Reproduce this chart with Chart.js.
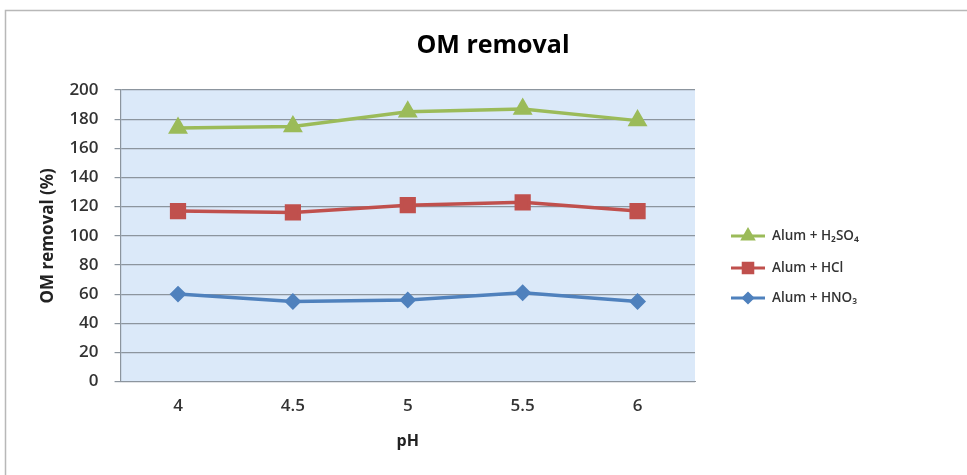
<!DOCTYPE html>
<html>
<head>
<meta charset="utf-8">
<script src="https://cdn.jsdelivr.net/npm/chart.js@4/dist/chart.umd.min.js"></script>
<style>
  html,body{margin:0;padding:0;background:#fff;}
  #wrap{width:967px;height:475px;position:relative;}
</style>
</head>
<body>
<div id="wrap"><canvas id="c" width="967" height="475"></canvas></div>
<script>
const categories = ['4', '4.5', '5', '5.5', '6'];
const seriesNames = ['Alum + H\u2082SO\u2084', 'Alum + HCl', 'Alum + HNO\u2083'];
const h2so4 = [174, 175, 185, 187, 179];
const hcl = [117, 116, 121, 123, 117];
const hno3 = [60, 55, 56, 61, 55];
const yTicks = [0, 20, 40, 60, 80, 100, 120, 140, 160, 180, 200];
const chartTitle = 'OM removal';
const xTitle = 'pH';
const yTitle = 'OM removal (%)';

const FONT = "'Open Sans', 'DejaVu Sans', sans-serif";

const framePlugin = {
  id: 'frame',
  beforeDraw(chart) {
    const ctx = chart.ctx, a = chart.chartArea;
    ctx.save();
    ctx.fillStyle = '#ffffff';
    ctx.fillRect(0, 0, chart.width, chart.height);
    ctx.strokeStyle = '#b8b8b8';
    ctx.lineWidth = 1.5;
    ctx.strokeRect(5.5, 10.5, chart.width + 20, chart.height + 20);
    ctx.fillStyle = '#dbe9f9';
    ctx.fillRect(a.left, a.top, a.right - a.left, a.bottom - a.top);
    ctx.restore();
  }
};

const textPlugin = {
  id: 'texts',
  afterDraw(chart) {
    const ctx = chart.ctx, a = chart.chartArea;
    ctx.save();
    ctx.textAlign = 'center';
    ctx.textBaseline = 'middle';
    ctx.fillStyle = '#000000';
    ctx.font = "bold 25px " + FONT;
    ctx.fillText(chartTitle, 493, 46);
    ctx.fillStyle = '#222222';
    ctx.font = "bold 16px " + FONT;
    ctx.fillText(xTitle, (a.left + a.right) / 2, 441);
    ctx.restore();
  }
};

const legendPlugin = {
  id: 'sideLegend',
  afterDraw(chart) {
    const ctx = chart.ctx;
    const ys = [236, 268, 298];
    chart.data.datasets.forEach((ds, i) => {
      const y = ys[i];
      ctx.save();
      ctx.strokeStyle = ds.borderColor;
      ctx.lineWidth = 3;
      ctx.beginPath();
      ctx.moveTo(731, y);
      ctx.lineTo(765, y);
      ctx.stroke();
      Chart.helpers.drawPoint(ctx, {
        pointStyle: ds.pointStyle,
        radius: ds.pointRadius * 0.75,
        borderWidth: 1
      }, 748, y);
      ctx.fillStyle = ds.pointBackgroundColor;
      ctx.strokeStyle = ds.pointBorderColor;
      ctx.fill();
      ctx.fillStyle = '#333333';
      ctx.font = "600 13.5px " + FONT;
      ctx.textBaseline = 'middle';
      ctx.textAlign = 'left';
      ctx.fillText(ds.label, 772, y);
      ctx.restore();
    });
  }
};

function mkDs(label, data, color, style, r) {
  return {
    label, data,
    borderColor: color,
    backgroundColor: color,
    pointBackgroundColor: color,
    pointBorderColor: color,
    pointStyle: style,
    pointRadius: r,
    pointHoverRadius: r,
    borderWidth: 3.5,
    tension: 0
  };
}

new Chart(document.getElementById('c'), {
  type: 'line',
  data: {
    labels: categories,
    datasets: [
      mkDs(seriesNames[0], h2so4, '#9bbb59', 'triangle', 8),
      mkDs(seriesNames[1], hcl, '#c0504d', 'rect', 9),
      mkDs(seriesNames[2], hno3, '#4f81bd', 'rectRot', 6)
    ]
  },
  options: {
    responsive: false,
    animation: false,
    devicePixelRatio: 1,
    layout: { padding: { left: 10, top: 90, right: 272, bottom: 45 } },
    plugins: {
      legend: { display: false },
      tooltip: { enabled: false },
      title: { display: false }
    },
    scales: {
      x: {
        type: 'category',
        offset: true,
        grid: { display: false, drawTicks: false, tickLength: 0 },
        border: { display: true, color: '#8c959e', width: 1 },
        ticks: { color: '#333333', padding: 14, font: { family: FONT, size: 17, weight: '600' } }
      },
      y: {
        min: 0, max: 200,
        afterBuildTicks(scale) { scale.ticks = yTicks.map(v => ({ value: v })); },
        grid: { color: '#8c959e', lineWidth: 1.2, tickLength: 6, drawTicks: true },
        border: { display: true, color: '#8c959e', width: 1.2 },
        ticks: { color: '#333333', padding: 16, font: { family: FONT, size: 17, weight: '600' } },
        title: {
          display: true, text: yTitle, color: '#222222',
          font: { family: FONT, size: 17, weight: 'bold', lineHeight: 1.2 },
          padding: { top: 28, bottom: -5 }
        }
      }
    }
  },
  plugins: [framePlugin, textPlugin, legendPlugin]
});
</script>
</body>
</html>
